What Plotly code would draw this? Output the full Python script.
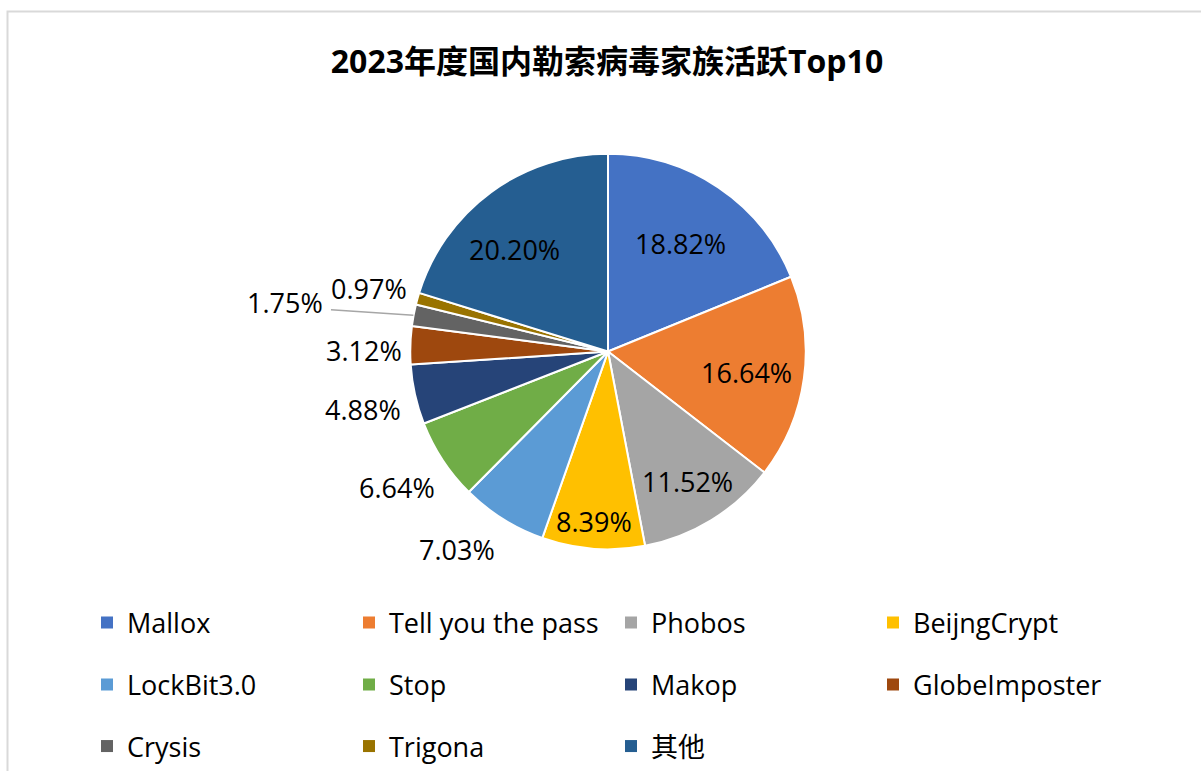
import math
import plotly.graph_objects as go

# ---- data ----
families = ["Mallox", "Tell you the pass", "Phobos", "BeijngCrypt", "LockBit3.0",
            "Stop", "Makop", "GlobeImposter", "Crysis", "Trigona", "其他"]
shares = [18.82, 16.64, 11.52, 8.39, 7.03, 6.64, 4.88, 3.12, 1.75, 0.97, 20.20]
colors = ["#4472C4", "#ED7D31", "#A5A5A5", "#FFC000", "#5B9BD5", "#70AD47",
          "#264478", "#9E480E", "#636363", "#997300", "#255E91"]
title_text = "2023年度国内勒索病毒家族活跃Top10"
legend_rows = [families[0:4], families[4:8], families[8:11]]

# ---- layout / style ----
W, H = 1201, 771
CX, CY, R = 608, 352, 198
label_radius = [0.657, 0.71, 0.77, 0.86, 1.26, 1.27, 1.27, 1.23, 1.65, 1.25, 0.70]
label_nudge = [0, 1, 0, 0.5, 5.3, 0.5, -0.7, -1.5, -2, -0.7, -5.9]
FONT = "Open Sans, Noto Sans CJK SC, sans-serif"

fig = go.Figure()
fig.add_trace(go.Pie(
    labels=families, values=shares, sort=False, direction="clockwise", rotation=0,
    marker=dict(colors=colors, line=dict(color="white", width=2)),
    textinfo="none", showlegend=False, hoverinfo="label+percent",
    domain=dict(x=[(CX - R) / W, (CX + R) / W], y=[1 - (CY + R) / H, 1 - (CY - R) / H]),
))

# legend entries (three legends, one per row)
legend_names = ["legend", "legend2", "legend3"]
color_of = dict(zip(families, colors))
for ri, row in enumerate(legend_rows):
    for name in row:
        fig.add_trace(go.Scatter(
            x=[None], y=[None], mode="markers", name=name,
            marker=dict(symbol="square", size=12, color=color_of[name]),
            legend=legend_names[ri], showlegend=True,
        ))

# data labels computed from the slice angles
annotations = []
shapes = []
total = sum(shares)
cum = 0.0
for i, (v, f, nd) in enumerate(zip(shares, label_radius, label_nudge)):
    mid = (cum + v / 2) / total * 360.0
    cum += v
    a = math.radians(mid + nd)
    px = CX + R * f * math.sin(a)
    py = CY - R * f * math.cos(a)
    annotations.append(dict(
        x=px / W, y=1 - py / H, xref="paper", yref="paper",
        text=f"{v:.2f}%", showarrow=False, xanchor="center", yanchor="middle",
        font=dict(family=FONT, size=27, color="#000000"),
    ))
    if f > 1.5:
        am = math.radians(mid)
        ex = CX + R * math.sin(am)
        ey = CY - R * math.cos(am)
        shapes.append(dict(type="line", xref="paper", yref="paper",
                           x0=ex / W, y0=1 - ey / H,
                           x1=(px + 46) / W, y1=1 - (py + 7) / H,
                           line=dict(color="#A6A6A6", width=1.5)))

# chart border
shapes.append(dict(type="rect", xref="paper", yref="paper",
                   x0=7.5 / W, x1=1.05, y0=-0.05, y1=1 - 11.5 / H,
                   line=dict(color="#D9D9D9", width=2), layer="below"))

row_y = [623, 685, 747]
legend_common = dict(orientation="h", xanchor="left", yanchor="middle",
                     entrywidth=217, entrywidthmode="pixels",
                     font=dict(family=FONT, size=27, color="#000000"),
                     bgcolor="rgba(0,0,0,0)", itemclick=False, itemdoubleclick=False)

fig.update_layout(
    width=W, height=H,
    margin=dict(l=0, r=0, t=0, b=0),
    paper_bgcolor="white", plot_bgcolor="white",
    xaxis=dict(visible=False), yaxis=dict(visible=False),
    title=dict(text=title_text, x=607 / W, y=1 - 62 / H, xanchor="center", yanchor="middle",
               font=dict(family=FONT, size=32, color="#000000", weight="bold")),
    annotations=annotations, shapes=shapes,
    legend=dict(x=87 / W, y=1 - row_y[0] / H, **legend_common),
    legend2=dict(x=87 / W, y=1 - row_y[1] / H, **legend_common),
    legend3=dict(x=87 / W, y=1 - row_y[2] / H, **legend_common),
)

fig.write_html("out.html")
